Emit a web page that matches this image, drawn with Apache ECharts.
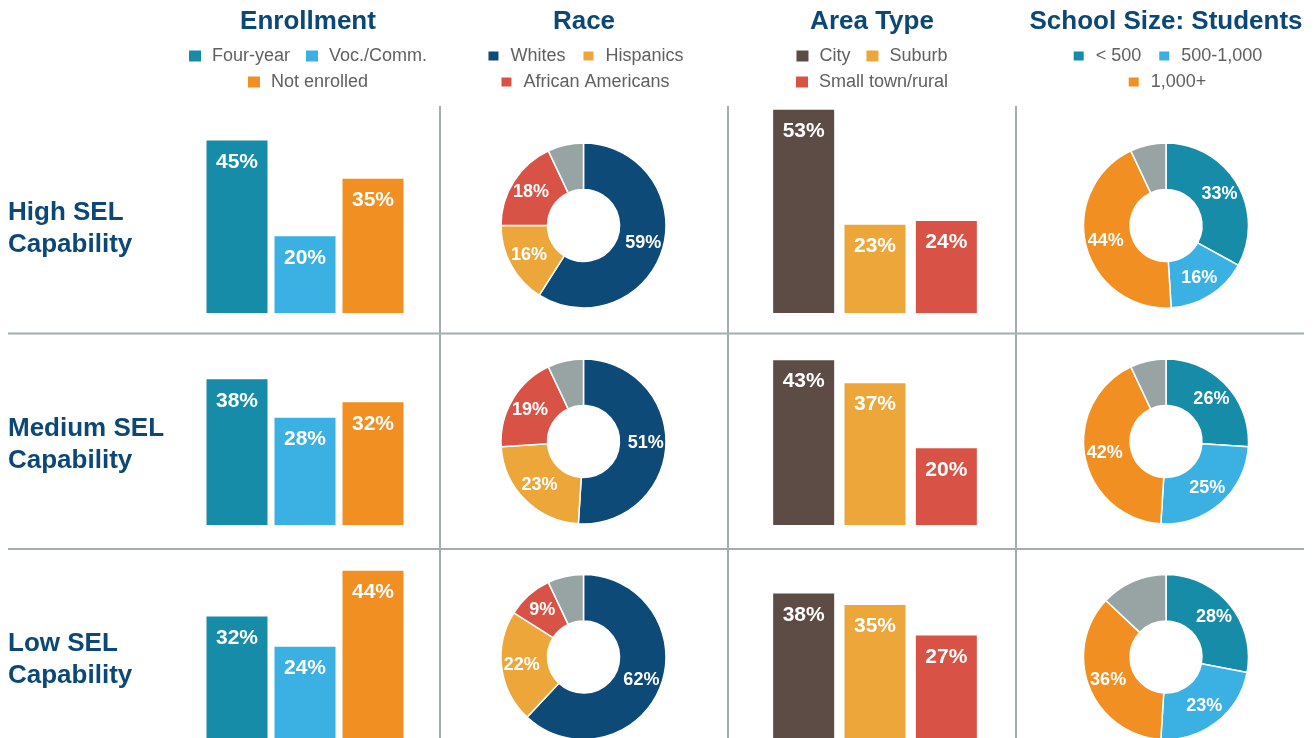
<!DOCTYPE html>
<html>
<head>
<meta charset="utf-8">
<script src="https://cdn.jsdelivr.net/npm/echarts@6/dist/echarts.min.js"></script>
<style>
html,body{margin:0;padding:0;background:#fff;}
#chart{width:1315px;height:738px;}
</style>
</head>
<body>
<div id="chart"></div>
<script>
// ---- data ----
const columnTitles = ['Enrollment', 'Race', 'Area Type', 'School Size: Students'];
const rowLabels = ['High SEL\nCapability', 'Medium SEL\nCapability', 'Low SEL\nCapability'];

const enrollNames = ['Four-year', 'Voc./Comm.', 'Not enrolled'];
const enrollHigh = [45, 20, 35];
const enrollMedium = [38, 28, 32];
const enrollLow = [32, 24, 44];

const raceNames = ['Whites', 'Hispanics', 'African Americans', 'Other'];
const raceHigh = [59, 16, 18, 7];
const raceMedium = [51, 23, 19, 7];
const raceLow = [62, 22, 9, 7];

const areaNames = ['City', 'Suburb', 'Small town/rural'];
const areaHigh = [53, 23, 24];
const areaMedium = [43, 37, 20];
const areaLow = [38, 35, 27];

const sizeNames = ['< 500', '500-1,000', '1,000+', 'Other'];
const sizeHigh = [33, 16, 44, 7];
const sizeMedium = [26, 25, 42, 7];
const sizeLow = [28, 23, 36, 13];

// ---- styles ----
const FONT = '"Liberation Sans", Arial, Helvetica, sans-serif';
const NAVY = '#0B4877';
const enrollColors = ['#178CA8', '#3BB1E3', '#F18F22'];
const raceColors = ['#0D4A78', '#ECA63A', '#D85346', '#98A4A4'];
const areaColors = ['#5D4C45', '#ECA63A', '#D85346'];
const sizeColors = ['#178CA8', '#3BB1E3', '#F18F22', '#98A4A4'];

const colCenters = [308, 584, 872, 1166];
const rowBarTop = [83, 295, 510];
const rowBarH = 230;
const rowCenters = [225.5, 441.5, 657];
const barMax = 60;

const chart = echarts.init(document.getElementById('chart'), null, {renderer: 'canvas'});

const ctx = document.createElement('canvas').getContext('2d');
ctx.font = '18px ' + FONT;
const ICON_W = 12, TEXT_PAD = 6, ITEM_GAP = 16;
function legendAt(names, cx, top) {
  const w = names.reduce((s, n) => s + ICON_W + 5 + TEXT_PAD + ctx.measureText(n).width, 0) + ITEM_GAP * (names.length - 1);
  return {
    data: names, left: cx - w / 2, top: top, padding: 0, itemGap: ITEM_GAP,
    itemWidth: ICON_W, itemHeight: 11, icon: 'rect', selectedMode: false,
    textStyle: {fontSize: 18, color: '#606060', fontFamily: FONT, padding: [0, 0, 0, TEXT_PAD]}
  };
}

const grids = [], xAxes = [], yAxes = [], series = [];
function addBars(names, colors, values, row, left, width) {
  const gi = grids.length;
  grids.push({left: left, width: width, top: rowBarTop[row], height: rowBarH});
  xAxes.push({type: 'category', gridIndex: gi, data: names, show: false});
  yAxes.push({type: 'value', gridIndex: gi, min: 0, max: barMax, show: false, splitLine: {show: false}});
  names.forEach((n, i) => {
    series.push({
      type: 'bar', name: n, xAxisIndex: gi, yAxisIndex: gi,
      data: values.map((v, j) => j === i ? v : '-'),
      barWidth: 61, barGap: '-100%',
      itemStyle: {color: colors[i]},
      label: {show: true, position: 'insideTop', distance: 11, formatter: '{c}%',
        color: '#fff', fontSize: 21, fontWeight: 'bold', fontFamily: FONT},
      emphasis: {disabled: true}, animation: false
    });
  });
}
function addPie(names, colors, values, row, cx) {
  series.push({
    type: 'pie', name: 'pie' + row + cx,
    center: [cx, rowCenters[row]], radius: [36, 82.5],
    startAngle: 90, clockwise: true, avoidLabelOverlap: false,
    itemStyle: {borderColor: '#fff', borderWidth: 1.5},
    label: {show: true, position: 'inside', formatter: '{c}%', color: '#fff',
      fontSize: 18, fontWeight: 'bold', fontFamily: FONT},
    labelLine: {show: false},
    data: values.map((v, i) => ({
      name: names[i], value: v, itemStyle: {color: colors[i]},
      label: {show: names[i] !== 'Other'}
    })),
    emphasis: {disabled: true}, animation: false
  });
}

const enrollRows = [enrollHigh, enrollMedium, enrollLow];
const raceRows = [raceHigh, raceMedium, raceLow];
const areaRows = [areaHigh, areaMedium, areaLow];
const sizeRows = [sizeHigh, sizeMedium, sizeLow];
for (let r = 0; r < 3; r++) {
  addBars(enrollNames, enrollColors, enrollRows[r], r, 203, 204);
  addPie(raceNames, raceColors, raceRows[r], r, 583.5);
  addBars(areaNames, areaColors, areaRows[r], r, 768, 214);
  addPie(sizeNames, sizeColors, sizeRows[r], r, 1166);
}

const lineStyle = {stroke: '#A3ADAD', lineWidth: 2};
const graphics = [];
[440, 728, 1016].forEach(x => graphics.push({type: 'line', shape: {x1: x, y1: 106, x2: x, y2: 738}, style: lineStyle, silent: true}));
[333.5, 549].forEach(y => graphics.push({type: 'line', shape: {x1: 8, y1: y, x2: 1304, y2: y}, style: lineStyle, silent: true}));
rowLabels.forEach((t, r) => graphics.push({
  type: 'text', x: 8, y: rowCenters[r] + 3,
  style: {text: t, fill: NAVY, font: 'bold 26px ' + FONT, lineHeight: 32, verticalAlign: 'middle', align: 'left'},
  silent: true
}));

const option = {
  backgroundColor: '#fff',
  animation: false,
  title: columnTitles.map((t, i) => ({
    text: t, left: colCenters[i], top: 9, textAlign: 'center', padding: 0,
    textStyle: {fontSize: 26, fontWeight: 'bold', color: NAVY, fontFamily: FONT}
  })),
  legend: [
    legendAt(enrollNames.slice(0, 2), colCenters[0], 47),
    legendAt(enrollNames.slice(2), colCenters[0], 73),
    legendAt(raceNames.slice(0, 2), colCenters[1], 47),
    legendAt(raceNames.slice(2, 3), colCenters[1], 73),
    legendAt(areaNames.slice(0, 2), colCenters[2], 47),
    legendAt(areaNames.slice(2), colCenters[2], 73),
    legendAt(sizeNames.slice(0, 2), colCenters[3], 47),
    legendAt(sizeNames.slice(2, 3), colCenters[3], 73)
  ],
  grid: grids, xAxis: xAxes, yAxis: yAxes, series: series,
  graphic: graphics
};
chart.setOption(option);
</script>
</body>
</html>
